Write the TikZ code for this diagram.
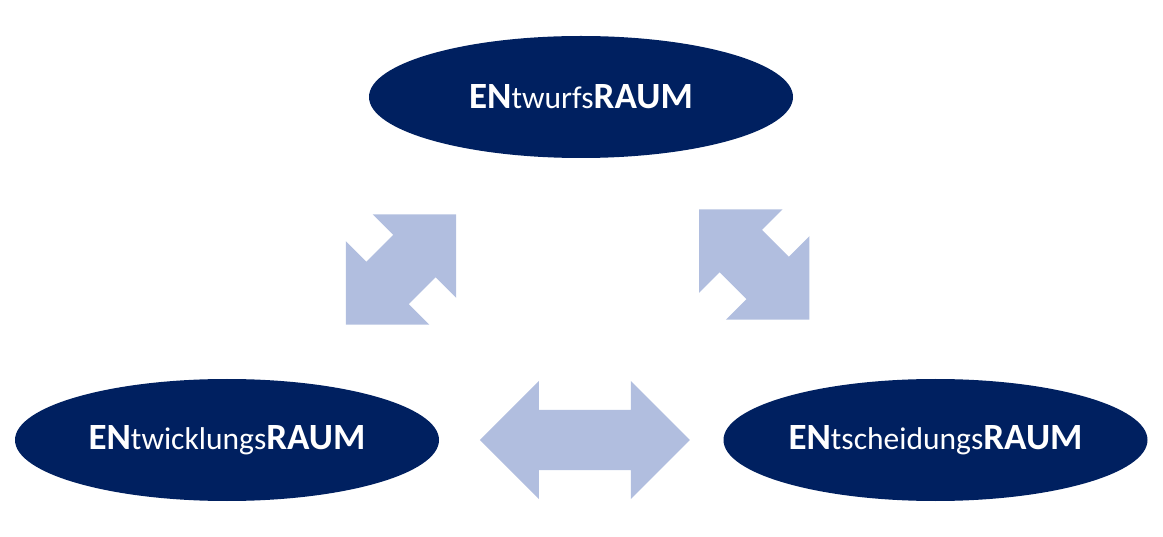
\documentclass[tikz,border=0pt]{standalone}
\usepackage{fontspec}
\setmainfont{Carlito}
\usetikzlibrary{shapes.geometric,calc}
\definecolor{raumnavy}{HTML}{002060}
\definecolor{pfeilblau}{RGB}{177,190,223}
\newcommand{\raumname}[1]{{\fontsize{37}{42}\selectfont\bfseries EN}{\fontsize{31.5}{42}\selectfont #1}{\fontsize{37}{42}\selectfont\bfseries RAUM}}
\tikzset{
  raum/.style={ellipse,fill=raumnavy,text=white,inner sep=0pt,
    minimum width=424pt,minimum height=122pt},
  pics/doppelpfeil/.style={code={
    \fill[pfeilblau] (-#1,0) -- (-#1+59,59) -- (-#1+59,30) -- (#1-59,30)
      -- (#1-59,59) -- (#1,0) -- (#1-59,-59) -- (#1-59,-30)
      -- (-#1+59,-30) -- (-#1+59,-59) -- cycle;
  }}
}
\begin{document}
\begin{tikzpicture}[x=1pt,y=-1pt]
      \useasboundingbox (0,0) rectangle (1163,537);
      \node[raum] (entwurf) at (581,97) {\raumname{twurfs}};
      \node[raum] (entwicklung) at (227,440) {\raumname{twicklungs}};
      \node[raum] (entscheidung) at (935.5,440) {\raumname{tscheidungs}};
      % Doppelpfeile zwischen den Raeumen
      \pic[rotate=45] at ($(entwicklung)!0.5!(entwurf)+(-3,1)$) {doppelpfeil=78};
      \pic[rotate=-45] at ($(entscheidung)!0.5!(entwurf)+(-4,-4)$) {doppelpfeil=78};
      \pic at ($(entwicklung)!0.505!(entscheidung)$) {doppelpfeil=105};
    \end{tikzpicture}
\end{document}
